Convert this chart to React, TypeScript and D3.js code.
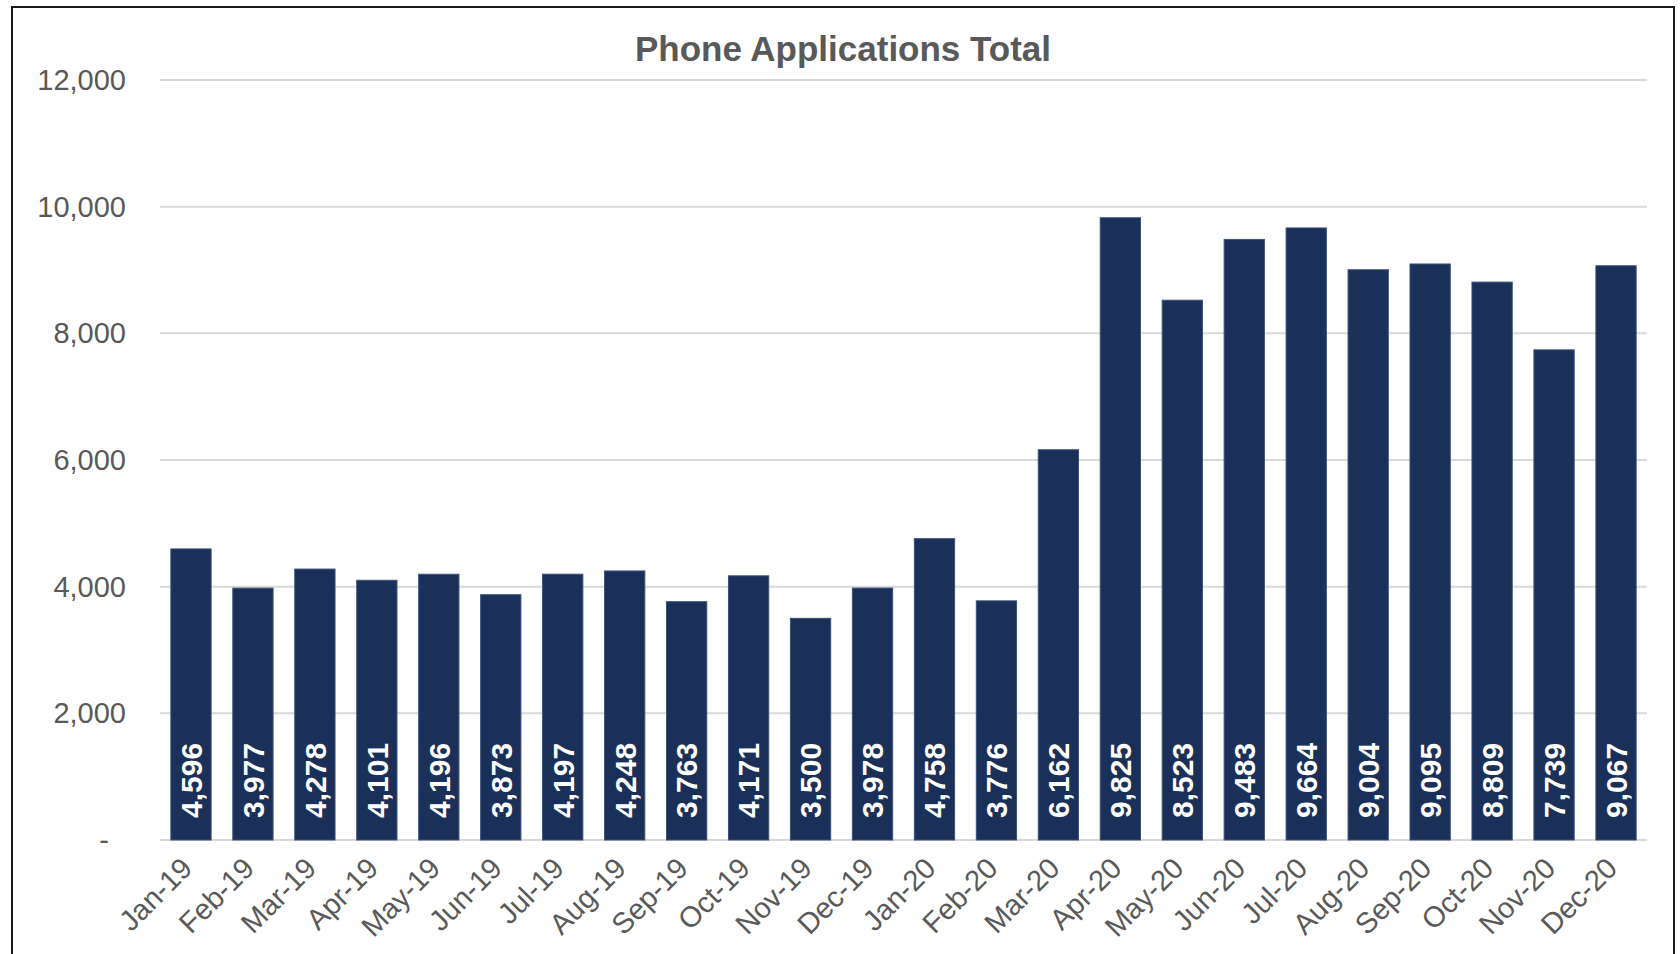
import React from "react";
import * as d3 from "d3";

const months = ["Jan-19","Feb-19","Mar-19","Apr-19","May-19","Jun-19","Jul-19","Aug-19","Sep-19","Oct-19","Nov-19","Dec-19","Jan-20","Feb-20","Mar-20","Apr-20","May-20","Jun-20","Jul-20","Aug-20","Sep-20","Oct-20","Nov-20","Dec-20"];
const totals = [4596,3977,4278,4101,4196,3873,4197,4248,3763,4171,3500,3978,4758,3776,6162,9825,8523,9483,9664,9004,9095,8809,7739,9067];
const yTicks = [0,2000,4000,6000,8000,10000,12000];
const title = "Phone Applications Total";

const W = 1680, H = 954;
const FONT = "'Liberation Sans', Arial, Helvetica, sans-serif";
const plot = { left: 160, right: 1647, top: 80, bottom: 840 };

export default function App() {
  const x = d3.scaleBand<string>().domain(months).range([plot.left, plot.right]).paddingInner(0.35).paddingOuter(0.175);
  const y = d3.scaleLinear().domain([0, 12000]).range([plot.bottom, plot.top]);
  const fmt = d3.format(",");
  const data = months.map((m, i) => ({ m, v: totals[i] }));
  return (
    <div style={{ position: "fixed", left: 0, top: 0, width: W, height: H, background: "#fff" }}>
      <svg width={W} height={H} style={{ display: "block" }} fontFamily={FONT}>
        <rect x={12} y={7} width={1662} height={960} fill="#fff" stroke="#1a1a1a" strokeWidth={2} />
        <text x={843} y={61} textAnchor="middle" fontSize={35} fontWeight="bold" fill="#595959">{title}</text>
        {yTicks.map((t) => (
          <g key={t}>
            <line x1={plot.left} x2={plot.right} y1={y(t)} y2={y(t)} stroke="#d9d9d9" strokeWidth={2} />
            <text x={t === 0 ? 109 : 126} y={y(t)} dy="0.35em" textAnchor="end" fontSize={29} fill="#595959">
              {t === 0 ? "-" : fmt(t)}
            </text>
          </g>
        ))}
        {data.map((d) => {
          const bx = x(d.m)!;
          const cx = bx + x.bandwidth() / 2;
          return (
            <g key={d.m}>
              <rect x={bx} y={y(d.v)} width={x.bandwidth()} height={y(0) - y(d.v)} fill="#1a3059" stroke="#3d5178" strokeWidth={1} />
              <text transform={`translate(${cx},${y(0) - 22}) rotate(-90)`} dy="0.36em" textAnchor="start" fontSize={30} fontWeight="bold" fill="#fff">
                {fmt(d.v)}
              </text>
              <text transform={`translate(${cx + 3},${870}) rotate(-45)`} textAnchor="end" fontSize={29} fill="#595959">
                {d.m}
              </text>
            </g>
          );
        })}
      </svg>
    </div>
  );
}
